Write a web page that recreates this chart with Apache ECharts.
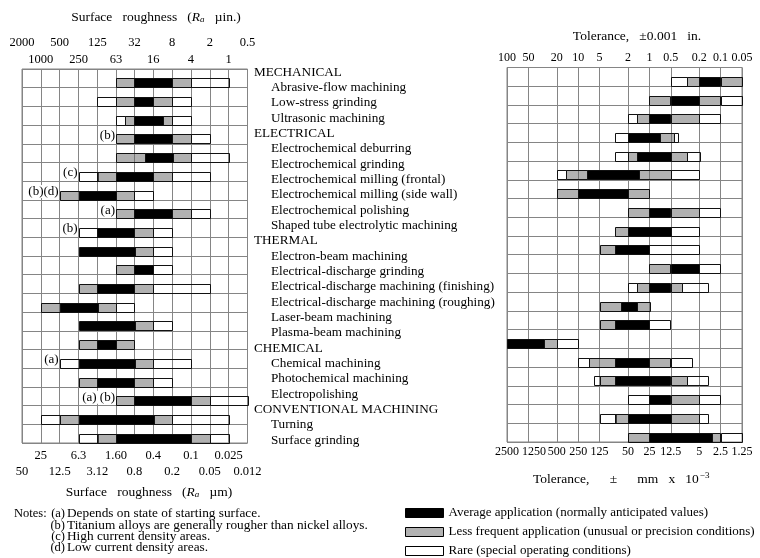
<!DOCTYPE html>
<html>
<head>
<meta charset="utf-8">
<script src="https://cdn.jsdelivr.net/npm/echarts@6/dist/echarts.min.js"></script>
<style>
html, body { margin: 0; padding: 0; background: #fff; }
#main { width: 760px; height: 558px; }
</style>
</head>
<body>
<div id="main"></div>
<script>
var rowNames = [
    'Abrasive-flow machining', 'Low-stress grinding', 'Ultrasonic machining',
    'Electrochemical deburring', 'Electrochemical grinding', 'Electrochemical milling (frontal)',
    'Electrochemical milling (side wall)', 'Electrochemical polishing', 'Shaped tube electrolytic machining',
    'Electron-beam machining', 'Electrical-discharge grinding', 'Electrical-discharge machining (finishing)',
    'Electrical-discharge machining (roughing)', 'Laser-beam machining', 'Plasma-beam machining',
    'Chemical machining', 'Photochemical machining', 'Electropolishing',
    'Turning', 'Surface grinding'
];
// group heading, index of its first row
var groupHeads = [['MECHANICAL', 0], ['ELECTRICAL', 3], ['THERMAL', 9], ['CHEMICAL', 15], ['CONVENTIONAL MACHINING', 18]];

var roughTicks = [2000, 1000, 500, 250, 125, 63, 32, 16, 8, 4, 2, 1, 0.5];          // µin.
var roughTicksUm = ['50', '25', '12.5', '6.3', '3.12', '1.60', '0.8', '0.4', '0.2', '0.1', '0.05', '0.025', '0.012'];
var tolTicks = [100, 50, 20, 10, 5, 2, 1, 0.5, 0.2, 0.1, 0.05];                     // 0.001 in.
var tolTicksMm = ['2500', '1250', '500', '250', '125', '50', '25', '12.5', '5', '2.5', '1.25'];

var kinds = [
    'Average application (normally anticipated values)',
    'Less frequent application (unusual or precision conditions)',
    'Rare (special operating conditions)'
];
// [from, to, kind]  kind: 0 average, 1 less frequent, 2 rare
var roughBands = [
    [[63, 32, 1], [32, 8, 0], [8, 4, 1], [4, 1, 2]],
    [[125, 63, 2], [63, 32, 1], [32, 16, 0], [16, 8, 1], [8, 4, 2]],
    [[63, 45, 2], [45, 32, 1], [32, 11, 0], [11, 8, 1], [8, 4, 2]],
    [[63, 32, 1], [32, 8, 0], [8, 4, 1], [4, 2, 2]],
    [[63, 22, 1], [22, 8, 0], [8, 4, 1], [4, 1, 2]],
    [[250, 125, 2], [125, 63, 1], [63, 16, 0], [16, 8, 1], [8, 2, 2]],
    [[500, 250, 1], [250, 63, 0], [63, 32, 1], [32, 16, 2]],
    [[63, 32, 1], [32, 8, 0], [8, 4, 1], [4, 2, 2]],
    [[250, 125, 2], [125, 32, 0], [32, 16, 1], [16, 8, 2]],
    [[250, 32, 0], [32, 16, 1], [16, 8, 2]],
    [[63, 32, 1], [32, 16, 0], [16, 8, 2]],
    [[250, 125, 1], [125, 32, 0], [32, 16, 1], [16, 2, 2]],
    [[1000, 500, 1], [500, 125, 0], [125, 63, 1], [63, 32, 2]],
    [[250, 32, 0], [32, 16, 1], [16, 8, 2]],
    [[250, 125, 1], [125, 63, 0], [63, 32, 1]],
    [[500, 250, 2], [250, 32, 0], [32, 16, 1], [16, 4, 2]],
    [[250, 125, 1], [125, 32, 0], [32, 16, 1], [16, 8, 2]],
    [[63, 32, 1], [32, 4, 0], [4, 2, 1], [2, 0.5, 2]],
    [[1000, 500, 2], [500, 250, 1], [250, 16, 0], [16, 8, 1], [8, 1, 2]],
    [[250, 125, 2], [125, 63, 1], [63, 4, 0], [4, 2, 1], [2, 1, 2]]
];
var tolBands = [
    [[0.5, 0.3, 2], [0.3, 0.2, 1], [0.2, 0.1, 0], [0.1, 0.05, 1]],
    [[1, 0.5, 1], [0.5, 0.2, 0], [0.2, 0.1, 1], [0.1, 0.05, 2]],
    [[2, 1.5, 2], [1.5, 1, 1], [1, 0.5, 0], [0.5, 0.2, 1], [0.2, 0.1, 2]],
    [[3, 2, 2], [2, 0.7, 0], [0.7, 0.45, 1], [0.45, 0.4, 2]],
    [[3, 2, 2], [2, 1.5, 1], [1.5, 0.5, 0], [0.5, 0.3, 1], [0.3, 0.2, 2]],
    [[20, 15, 2], [15, 7.5, 1], [7.5, 1.4, 0], [1.4, 0.5, 1], [0.5, 0.2, 2]],
    [[20, 10, 1], [10, 2, 0], [2, 1, 1]],
    [[2, 1, 1], [1, 0.5, 0], [0.5, 0.2, 1], [0.2, 0.1, 2]],
    [[3, 2, 1], [2, 0.5, 0], [0.5, 0.2, 2]],
    [[5, 3, 1], [3, 1, 0], [1, 0.2, 2]],
    [[1, 0.5, 1], [0.5, 0.2, 0], [0.2, 0.1, 2]],
    [[2, 1.5, 2], [1.5, 1, 1], [1, 0.5, 0], [0.5, 0.35, 1], [0.35, 0.15, 2]],
    [[5, 2.5, 1], [2.5, 1.5, 0], [1.5, 1, 1]],
    [[5, 3, 1], [3, 1, 0], [1, 0.5, 2]],
    [[100, 30, 0], [30, 20, 1], [20, 10, 2]],
    [[10, 7, 2], [7, 3, 1], [3, 1, 0], [1, 0.5, 1], [0.5, 0.25, 2]],
    [[6, 5, 2], [5, 3, 1], [3, 0.5, 0], [0.5, 0.3, 1], [0.3, 0.15, 2]],
    [[2, 1, 2], [1, 0.5, 0], [0.5, 0.2, 1], [0.2, 0.1, 2]],
    [[5, 3, 2], [3, 2, 1], [2, 0.5, 0], [0.5, 0.2, 1], [0.2, 0.15, 2]],
    [[2, 1, 1], [1, 0.13, 0], [0.13, 0.1, 1], [0.1, 0.05, 2]]
];
// footnote marks left of the roughness bars: [roughness, row, text]
var barNotes = [[63, 3, '(b)'], [250, 5, '(c)'], [500, 6, '(b)(d)'], [63, 7, '(a)'], [250, 8, '(b)'], [500, 15, '(a)'], [63, 17, '(a) (b)']];
var footNotes = [
    ['(a)', 'Depends on state of starting surface.'],
    ['(b)', 'Titanium alloys are generally rougher than nickel alloys.'],
    ['(c)', 'High current density areas.'],
    ['(d)', 'Low current density areas.']
];

var FONT = 'Liberation Serif';
var fills = ['#000', 'rgba(100,100,100,0.5)', 'rgba(255,255,255,0)'];
var legendFills = ['#000', '#b2b2b2', '#fff'];
var gridColor = '#858585';

var heads = {};
groupHeads.forEach(function (g) { heads[g[1]] = g[0]; });
var headSet = {};
var labelLines = [];
rowNames.forEach(function (n, i) {
    if (heads[i]) { labelLines.push(heads[i]); headSet[heads[i]] = true; }
    labelLines.push(n);
});

function nearest(ticks, v) {
    var best = 0;
    for (var i = 1; i < ticks.length; i++) {
        if (Math.abs(Math.log(ticks[i] / v)) < Math.abs(Math.log(ticks[best] / v))) best = i;
    }
    return best;
}

function roughAxis(pos, offset, margin, parity, labels, split) {
    return {
        gridIndex: 0, type: 'log', logBase: 2, min: 0.5, max: 2000, inverse: true,
        position: pos, offset: offset,
        axisLine: { show: false },
        axisTick: { show: false, customValues: roughTicks },
        splitLine: { show: split, lineStyle: { color: gridColor, width: 1 } },
        axisLabel: {
            customValues: roughTicks, margin: margin, showMinLabel: true, showMaxLabel: true, hideOverlap: false,
            fontFamily: FONT, fontSize: 12.5, color: '#000',
            formatter: function (v) {
                var i = nearest(roughTicks, v);
                return i % 2 === parity ? String(labels[i]) : '';
            }
        }
    };
}

// pick: which tick indices this axis prints (null = all)
function tolAxis(pos, margin, labels, split, pick, shift) {
    return {
        gridIndex: 1, type: 'log', logBase: 10, min: 0.05, max: 100, inverse: true,
        position: pos,
        axisLine: { show: false },
        axisTick: { show: false, customValues: tolTicks },
        splitLine: { show: split, lineStyle: { color: gridColor, width: 1 } },
        axisLabel: {
            customValues: tolTicks, margin: margin, showMinLabel: true, showMaxLabel: true, hideOverlap: false,
            fontFamily: FONT, fontSize: 12, color: '#000',
            formatter: function (v) {
                var i = nearest(tolTicks, v);
                return !pick || pick(i) ? '{v|' + labels[i] + '}' : '';
            },
            rich: { v: { fontFamily: FONT, fontSize: 12, color: '#000', padding: [0, 0, 0, shift || 0] } }
        }
    };
}

function renderBand(params, api) {
    var r = api.value(2);
    var a = api.coord([api.value(0), r]);
    var b = api.coord([api.value(1), r]);
    var rowH = params.coordSys.height / rowNames.length;
    var kind = kinds.indexOf(params.seriesName);
    var x = Math.round(Math.min(a[0], b[0])) + 0.5;
    var w = Math.round(Math.abs(b[0] - a[0]));
    var y = Math.round(a[1]) + 0.5;
    return {
        type: 'rect',
        shape: { x: x, y: y, width: w, height: Math.round(rowH / 2) },
        style: { fill: fills[kind], stroke: '#111', lineWidth: 1 }
    };
}

function bandSeries(kind, side) {
    var bands = side === 0 ? roughBands : tolBands;
    var data = [];
    bands.forEach(function (row, r) {
        row.forEach(function (s) { if (s[2] === kind) data.push([s[0], s[1], r]); });
    });
    return {
        type: 'custom', name: kinds[kind], xAxisIndex: side === 0 ? 0 : 4, yAxisIndex: side,
        renderItem: renderBand, encode: { x: [0, 1], y: 2 }, data: data,
        itemStyle: { color: legendFills[kind] }, silent: true, z: 3
    };
}

var catAxis = function (gi) {
    return {
        gridIndex: gi, type: 'category', data: rowNames, inverse: true,
        axisLine: { show: false }, axisTick: { show: false }, axisLabel: { show: false },
        splitLine: { show: true, lineStyle: { color: gridColor, width: 1 } }
    };
};

var series = [];
[0, 1].forEach(function (side) {
    [2, 1, 0].forEach(function (k) { series.push(bandSeries(k, side)); });
});
series.push({
    type: 'custom', xAxisIndex: 0, yAxisIndex: 0, silent: true, z: 4,
    data: barNotes.map(function (n) { return [n[0], n[1]]; }),
    encode: { x: 0, y: 1 },
    renderItem: function (params, api) {
        var p = api.coord([api.value(0), api.value(1)]);
        return {
            type: 'text', x: p[0] - 1, y: p[1] + 1,
            style: {
                text: barNotes[params.dataIndex][2], align: 'right', verticalAlign: 'middle',
                fontFamily: FONT, fontSize: 13, fill: '#000', backgroundColor: '#fff'
            }
        };
    }
});

function txt(x, y, text, align, rich, size) {
    return {
        type: 'text', x: x, y: y, silent: true,
        style: {
            text: text, align: align, verticalAlign: 'middle', fontFamily: FONT,
            fontSize: size || 13.5, fill: '#000', rich: rich
        }
    };
}
var titleRich = {
    t: { fontFamily: FONT, fontSize: 13.5, color: '#000' },
    i: { fontFamily: FONT, fontSize: 13.5, fontStyle: 'italic', color: '#000' },
    s: { fontFamily: FONT, fontSize: 9, fontStyle: 'italic', color: '#000', verticalAlign: 'bottom', padding: [5, 0, 0, 0] },
    u: { fontFamily: FONT, fontSize: 9, color: '#000', padding: [0, 0, 7, 1] }
};
var graphics = [
    txt(156, 17, '{t|Surface   roughness   (}{i|R}{s|a}{t|   µin.)}', 'center', titleRich),
    txt(637, 36, 'Tolerance,   ±0.001   in.', 'center'),
    txt(149, 492, '{t|Surface   roughness   (}{i|R}{s|a}{t|   µm)}', 'center', titleRich),
    txt(533, 479, '{t|Tolerance,      ±      mm   x   10}{u|−3}', 'left', titleRich),
    txt(14, 514, 'Notes:', 'left', null, 12.5)
];
footNotes.forEach(function (f, i) {
    var y = [514, 526, 537, 548][i];
    graphics.push(txt(65, y, f[0], 'right', null, 12.5));
    graphics.push(txt(67, y, f[1], 'left', null, 13.3));
});

var myChart = echarts.init(document.getElementById('main'), null, { renderer: 'canvas' });

var option = {
    animation: false,
    backgroundColor: '#fff',
    grid: [
        { left: 22, top: 69, width: 225.5, height: 374, show: true, borderColor: gridColor, borderWidth: 1, backgroundColor: 'transparent' },
        { left: 507, top: 67.5, width: 235, height: 374.5, show: true, borderColor: gridColor, borderWidth: 1, backgroundColor: 'transparent' },
        { left: 254, top: 64.6, width: 240, height: 383.3 }
    ],
    xAxis: [
        roughAxis('top', 17, 3, 0, roughTicks, false),
        roughAxis('top', 0, 3, 1, roughTicks, true),
        roughAxis('bottom', 0, 6, 1, roughTicksUm, false),
        roughAxis('bottom', 16, 6, 0, roughTicksUm, false),
        tolAxis('top', 4, tolTicks, true, null, 0),
        tolAxis('bottom', 4, tolTicksMm, false, function (i) { return i !== 1; }, 0),
        { gridIndex: 2, type: 'value', show: false },
        tolAxis('bottom', 4, tolTicksMm, false, function (i) { return i === 1; }, 11)
    ],
    yAxis: [
        catAxis(0),
        catAxis(1),
        {
            gridIndex: 2, type: 'category', data: labelLines, inverse: true,
            axisLine: { show: false }, axisTick: { show: false }, splitLine: { show: false },
            axisLabel: {
                inside: true, margin: 0, interval: 0, color: '#000',
                formatter: function (v) { return headSet[v] ? '{h|' + v + '}' : '{m|' + v + '}'; },
                rich: {
                    h: { fontFamily: FONT, fontSize: 13.2, color: '#000' },
                    m: { fontFamily: FONT, fontSize: 13.2, color: '#000', padding: [0, 0, 0, 17] }
                }
            }
        }
    ],
    legend: {
        orient: 'vertical', left: 405, top: 506, height: 100, padding: 0,
        itemWidth: 38, itemHeight: 9, itemGap: 5,
        selectedMode: false,
        textStyle: { fontFamily: FONT, fontSize: 13, color: '#000', lineHeight: 14 },
        data: kinds.map(function (k, i) {
            return { name: k, icon: 'rect', itemStyle: { color: legendFills[i], borderColor: '#000', borderWidth: 1 } };
        })
    },
    graphic: graphics,
    series: series
};

myChart.setOption(option);
window.addEventListener('resize', myChart.resize);
</script>
</body>
</html>
